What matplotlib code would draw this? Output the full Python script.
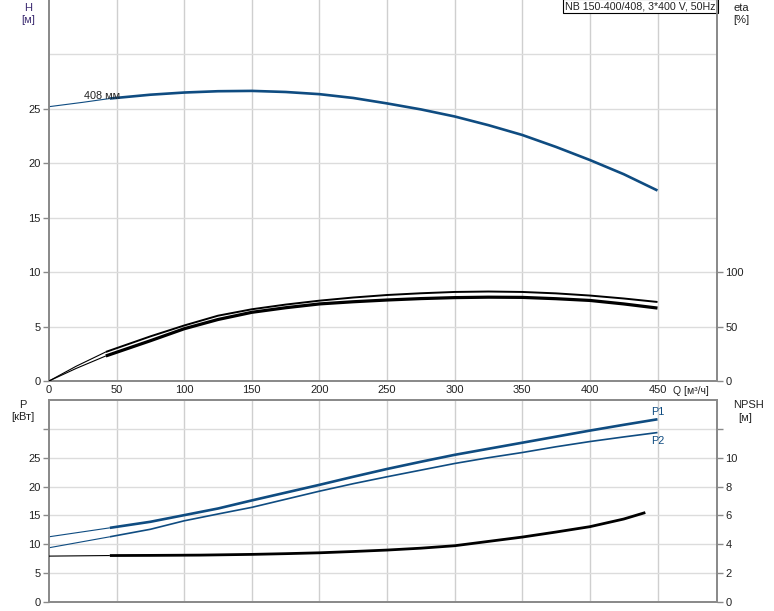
import matplotlib
matplotlib.use("Agg")
import matplotlib.pyplot as plt
import numpy as np

plt.rcParams['font.family'] = ['Liberation Sans', 'DejaVu Sans']
plt.rcParams['font.size'] = 8

# ---------------- data ----------------
title = "NB 150-400/408, 3*400 V, 50Hz"
x_ticks = [0, 50, 100, 150, 200, 250, 300, 350, 400, 450]
q_min = 45  # start of the recommended (thick) range

q_h = [0, 25, 45, 75, 100, 125, 150, 175, 200, 225, 250, 275, 300, 325, 350, 375, 400, 425, 450]
h_vals = [25.2, 25.6, 25.95, 26.3, 26.5, 26.62, 26.65, 26.55, 26.35, 26.0, 25.5, 24.95,
          24.3, 23.5, 22.6, 21.5, 20.3, 19.0, 17.5]

q_eta = [0, 20, 42, 75, 100, 125, 150, 175, 200, 225, 250, 275, 300, 325, 350, 375, 400, 425, 450]
eta_1 = [0, 13.5, 26.7, 41, 51, 60, 65.9, 70.2, 73.8, 76.7, 79, 80.6, 81.8, 82.2, 81.8, 80.5,
         78.5, 75.8, 72.6]
eta_2 = [0, 11.5, 23, 37, 48, 56.5, 63.1, 67.3, 70.8, 72.8, 74.4, 75.7, 76.6, 77, 76.8, 75.6,
         74, 70.8, 67]

q_p = [0, 45, 75, 100, 125, 150, 175, 200, 225, 250, 275, 300, 325, 350, 375, 400, 425, 450]
p1_vals = [11.3, 12.85, 13.9, 15.05, 16.2, 17.6, 18.95, 20.3, 21.7, 23.05, 24.3, 25.5, 26.55,
           27.6, 28.65, 29.7, 30.7, 31.66]
p2_vals = [9.4, 11.3, 12.6, 14.07, 15.25, 16.4, 17.8, 19.2, 20.5, 21.7, 22.85, 24.0, 25.0,
           25.9, 26.9, 27.8, 28.6, 29.36]

q_npsh = [0, 45, 75, 112, 150, 175, 200, 225, 250, 275, 300, 325, 350, 375, 400, 425, 441]
npsh_vals = [3.18, 3.22, 3.23, 3.25, 3.3, 3.35, 3.41, 3.5, 3.6, 3.73, 3.9, 4.2, 4.5, 4.85,
             5.22, 5.75, 6.2]

h_ticks = [0, 5, 10, 15, 20, 25, 30]
eta_ticks = [0, 50, 100]
p_ticks = [0, 5, 10, 15, 20, 25, 30]
npsh_ticks = [0, 2, 4, 6, 8, 10, 12]

BLUE = "#0f4c81"
GRID_H = "#dcdcdc"
GRID_V = "#cfcfcf"
SPINE = "#8a8a8a"
TXT = "#222222"

W, H = 774, 611
fig = plt.figure(figsize=(W / 100, H / 100), dpi=100)


def fx(px):
    return px / W


def fy(py):
    return 1 - py / H


def split_plot(ax, q, v, color, lw_main, lw_thin=0.8):
    q = np.asarray(q, float)
    v = np.asarray(v, float)
    m1 = q <= q_min
    m2 = q >= q[m1][-1]
    ax.plot(q[m1], v[m1], color=color, lw=lw_thin, solid_capstyle='butt', zorder=3)
    ax.plot(q[m2], v[m2], color=color, lw=lw_main, solid_capstyle='butt',
            solid_joinstyle='round', zorder=3)


def style(ax):
    for s in ax.spines.values():
        s.set_color(SPINE)
        s.set_linewidth(1.3)
    ax.set_xlim(0, 494)
    ax.set_xticks(x_ticks)
    ax.grid(False)
    for xt in x_ticks[1:]:
        ax.axvline(xt, color=GRID_V, lw=1.0, zorder=0)


# ---------- top panel ----------
ax1 = fig.add_axes([fx(49), fy(381), fx(717) - fx(49), fy(0) - fy(381)])
style(ax1)
ax1.spines['top'].set_visible(False)
ax1.set_ylim(0, 35)
ax1.set_yticks(h_ticks[:-1])
for yt in h_ticks[1:]:
    ax1.axhline(yt, color=GRID_H, lw=1.0, zorder=0)
ax1.tick_params(axis='y', direction='out', length=4, width=1, color=SPINE, labelcolor=TXT, pad=2)
ax1.tick_params(axis='x', length=0, labelcolor=TXT, pad=3)

split_plot(ax1, q_h, h_vals, BLUE, 1.9)
ax1.text(26, 26.15, "408 мм", ha='left', va='center', color=TXT, fontsize=7.8, zorder=4)

ax1r = ax1.twinx()
ax1r.set_ylim(0, 350)
ax1r.set_yticks(eta_ticks)
for s in ax1r.spines.values():
    s.set_color(SPINE)
    s.set_linewidth(1.3)
ax1r.spines['top'].set_visible(False)
ax1r.tick_params(axis='y', direction='out', length=4, width=1, color=SPINE, labelcolor=TXT, pad=2)
split_plot(ax1r, q_eta, eta_1, "black", 1.4)
split_plot(ax1r, q_eta, eta_2, "black", 2.3)

ax1.text(0.998, 0.997, title, transform=ax1.transAxes, ha='right', va='top', fontsize=7.7,
         color=TXT, zorder=6,
         bbox=dict(boxstyle='square,pad=0.2', fc='white', ec='black', lw=0.8))

# ---------- bottom panel ----------
ax2 = fig.add_axes([fx(49), fy(602), fx(717) - fx(49), fy(400) - fy(602)])
style(ax2)
ax2.set_ylim(0, 35)
ax2.set_yticks(p_ticks)
ax2.set_yticklabels([str(t) for t in p_ticks[:-1]] + [""])
for yt in p_ticks[1:]:
    ax2.axhline(yt, color=GRID_H, lw=1.0, zorder=0)
ax2.tick_params(axis='y', direction='out', length=4, width=1, color=SPINE, labelcolor=TXT, pad=2)
ax2.tick_params(axis='x', length=0, labelbottom=False)

split_plot(ax2, q_p, p1_vals, BLUE, 1.9)
split_plot(ax2, q_p, p2_vals, BLUE, 1.2)
ax2.text(445, 32.9, "P1", ha='left', va='center', color=BLUE, fontsize=7.8)
ax2.text(445, 27.9, "P2", ha='left', va='center', color=BLUE, fontsize=7.8)

ax2r = ax2.twinx()
ax2r.set_ylim(0, 14)
ax2r.set_yticks(npsh_ticks)
ax2r.set_yticklabels([str(t) for t in npsh_ticks[:-1]] + [""])
for s in ax2r.spines.values():
    s.set_color(SPINE)
    s.set_linewidth(1.3)
ax2r.tick_params(axis='y', direction='out', length=4, width=1, color=SPINE, labelcolor=TXT, pad=2)
split_plot(ax2r, q_npsh, npsh_vals, "black", 2.0)

# ---------- axis titles ----------
fig.text(fx(28), fy(8), "H", ha='center', va='center', color="#3b2a70")
fig.text(fx(28), fy(20), "[м]", ha='center', va='center', color="#3b2a70")
fig.text(fx(741), fy(8), "eta", ha='center', va='center', color=TXT)
fig.text(fx(741), fy(20), "[%]", ha='center', va='center', color=TXT)
fig.text(fx(23), fy(405), "P", ha='center', va='center', color=TXT)
fig.text(fx(23), fy(417), "[кВт]", ha='center', va='center', color=TXT)
fig.text(fx(748), fy(405), "NPSH", ha='center', va='center', color=TXT)
fig.text(fx(745), fy(418), "[м]", ha='center', va='center', color=TXT)
fig.text(fx(673), fy(391), "Q [м³/ч]", ha='left', va='center', color=TXT, fontsize=7.5)

fig.savefig("out.png", dpi=100)
